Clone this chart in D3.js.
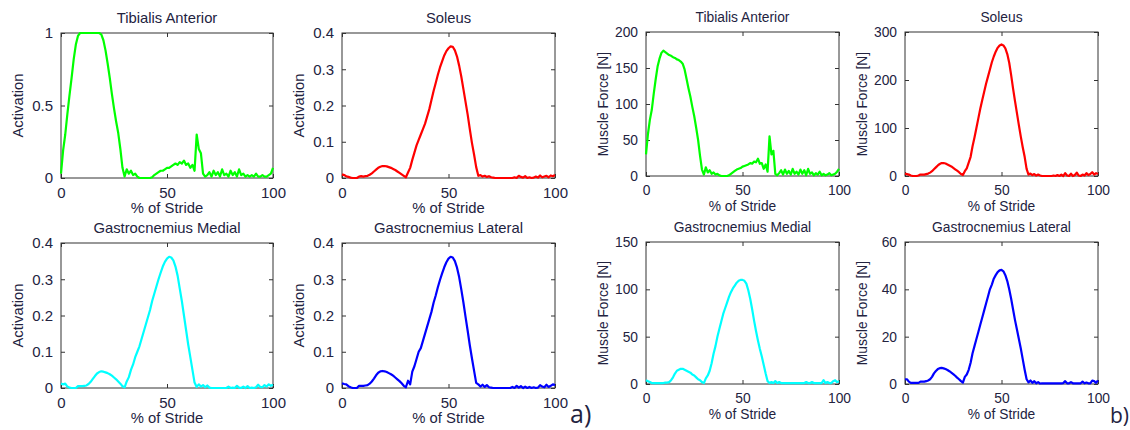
<!DOCTYPE html>
<html>
<head>
<meta charset="utf-8">
<script src="https://cdn.jsdelivr.net/npm/d3@7"></script>
<style>
body { margin:0; background:#fff; }
text { font-family: "Liberation Sans", Arial, sans-serif; fill:#23233f; }
</style>
</head>
<body>
<div id="muscle_viz"></div>
<script>
var width = 1130;
var height = 430;

// % of stride, 0..100 in 1% steps
var stride = [0,1,2,3,4,5,6,7,8,9,10,11,12,13,14,15,16,17,18,19,20,21,22,23,24,25,26,27,28,29,30,
  31,32,33,34,35,36,37,38,39,40,41,42,43,44,45,46,47,48,49,50,51,52,53,54,55,56,57,58,59,60,
  61,62,63,64,65,66,67,68,69,70,71,72,73,74,75,76,77,78,79,80,81,82,83,84,85,86,87,88,89,90,
  91,92,93,94,95,96,97,98,99,100];

var titles = ['Tibialis Anterior', 'Soleus', 'Gastrocnemius Medial', 'Gastrocnemius Lateral'];
var colors = ['#00ff00', '#ff0000', '#00ffff', '#0000ff'];

// a) activation
var taAct = [0.03,0.19,0.30,0.44,0.57,0.69,0.82,0.92,0.98,1,1,1,1,1,1,1,1,1,1,0.99,0.95,
  0.88,0.79,0.69,0.58,0.48,0.39,0.31,0.2,0.07,0.01,0.06,0.03,0.05,0.02,0.03,0.01,0,0,0,0,
  0,0,0.005,0.02,0.03,0.04,0.05,0.05,0.06,0.07,0.07,0.08,0.09,0.1,0.09,0.11,0.1,0.12,0.09,0.1,
  0.07,0.09,0.05,0.3,0.2,0.17,0.03,0.01,0.02,0.04,0.01,0.05,0.02,0.04,0.01,0.06,0.02,0.03,0.01,0.05,
  0.02,0.04,0.01,0.06,0.02,0.03,0.01,0.02,0.01,0.02,0.01,0.03,0.01,0.01,0.02,0.01,0.01,0.02,0.03,0.07];
var solAct = [0.01,0.008,0.005,0.003,0.001,0,0,0,0.004,0.005,0.004,0.005,0.006,0.009,0.013,0.018,0.023,0.028,0.031,0.033,0.033,
  0.032,0.03,0.028,0.025,0.022,0.018,0.014,0.01,0.006,0.002,0.015,0.028,0.05,0.07,0.09,0.105,0.12,0.135,0.15,0.17,
  0.19,0.215,0.24,0.262,0.285,0.305,0.322,0.338,0.35,0.358,0.363,0.362,0.352,0.335,0.31,0.28,0.245,0.21,0.175,0.135,
  0.097,0.065,0.03,0.006,0.008,0.004,0.006,0.003,0.005,0.002,0.001,0,0,0,0,0,0,0,0,0,
  0.002,0,0.006,0.003,0.001,0.005,0,0.002,0,0.001,0.004,0.001,0.007,0.002,0.004,0.006,0.002,0.007,0.005,0.008];
var gmAct = [0.012,0.01,0.012,0.004,0.001,0,0,0,0.005,0.005,0.005,0.006,0.007,0.011,0.017,0.025,0.033,0.04,0.044,0.046,0.045,
  0.043,0.041,0.038,0.034,0.029,0.024,0.018,0.012,0.005,0.002,0.018,0.03,0.05,0.065,0.085,0.1,0.115,0.135,0.155,0.175,
  0.195,0.215,0.24,0.26,0.28,0.3,0.318,0.335,0.348,0.357,0.362,0.36,0.352,0.335,0.31,0.275,0.24,0.2,0.16,0.12,
  0.085,0.05,0.015,0.003,0.01,0.004,0.008,0.002,0.007,0.001,0,0,0,0,0,0,0,0,0.004,0,
  0.001,0,0.006,0.001,0,0.004,0,0.005,0,0.001,0,0.002,0.009,0.003,0.002,0.008,0.004,0.01,0.006,0.009];
var glAct = [0.013,0.011,0.01,0.005,0.002,0,0,0,0.006,0.006,0.006,0.007,0.008,0.012,0.018,0.026,0.035,0.042,0.046,0.047,0.046,
  0.044,0.041,0.038,0.034,0.029,0.024,0.019,0.013,0.006,0.002,0.02,0.01,0.045,0.06,0.08,0.1,0.11,0.13,0.15,0.17,
  0.19,0.21,0.235,0.255,0.278,0.298,0.316,0.333,0.347,0.357,0.362,0.36,0.35,0.332,0.306,0.272,0.236,0.196,0.158,0.118,
  0.082,0.048,0.014,0.01,0.004,0.009,0.003,0.008,0.002,0.001,0,0,0,0,0,0,0,0,0,0.003,
  0,0.006,0.001,0.005,0,0.004,0,0.003,0,0.002,0,0.001,0.008,0.004,0.002,0.009,0.003,0.006,0.01,0.008];

// b) muscle force [N]
var taF = [30,58,78,92,114,134,152,163,171,174,172,170,168,167,165,164,162,161,159,156,148,
  135,122,110,96,83,67,50,28,9,2,12,5,8,3,5,2,3,1,0,0,
  0,0,1,3,5,7,9,10,11,13,14,15,16,18,17,20,19,24,17,18,
  10,16,6,55,30,35,3,1,4,8,2,9,3,7,2,10,3,6,2,9,
  3,8,1,10,3,5,1,4,2,6,1,3,1,2,4,1,2,3,6,10];
var solF = [5,4,3,1,0,0,0,1,3,3,3,4,5,7,10,14,18,22,25,27,27,
  26,24,22,20,17,14,11,8,4,2,10,16,28,40,62,80,100,120,140,158,
  175,192,207,222,237,249,259,267,272,274,272,266,254,236,210,182,156,131,106,82,
  60,40,15,3,5,2,4,1,3,1,0,0,0,0,0,0,1,0,2,0,
  3,0,6,1,0,5,0,2,7,1,0,3,1,6,2,4,8,3,6,4];
var gmF = [4,3,2,1,1,1,1,1,1,1,1.5,1.5,2,4,7,11,14,15,16,16,15,
  14,13,12,10,9,7,5,4,2,1,6,9,14,22,32,40,50,58,66,74,
  80,86,92,97,101,104,107,109,110,110,109,106,99,90,79,67,56,46,37,29,
  20,11,3,1,2,1,3,1,2,1,1,1,1,1,1,1,1,1,1,1,
  1,1,2,1,1,2,1,1,1,1,1,4,1,2,1,1,3,4,2,3];
var glF = [2,2,1,0.5,0.5,0.5,0.5,0.5,1,1,1,1.2,1.5,2,3,4.5,5.5,6.3,6.7,6.8,6.6,
  6.3,5.9,5.4,4.8,4.2,3.5,2.7,2,1.2,0.6,3,4,6,9,13,16,19,22,25,28,
  31,34,37,40,42,44.5,46,47.3,48,48.2,47.6,46,43.5,40,36,31.5,27,23,19,15,
  10.5,6,2,0.7,1.5,0.5,1.2,0.3,0.8,0.2,0.3,0.3,0.3,0.3,0.3,0.3,0.3,0.3,0.3,0.3,
  0.3,0.4,1.2,0.3,0.3,0.8,0.3,0.3,0.3,0.3,0.3,1,0.3,0.6,0.3,0.3,1.4,1.2,0.5,1.5];

// y tick labels per panel
var actTicks1 = [0, 0.5, 1];
var actTicks = [0, 0.1, 0.2, 0.3, 0.4];
var taFTicks = [0, 50, 100, 150, 200];
var solFTicks = [0, 100, 200, 300];
var gmFTicks = [0, 50, 100, 150];
var glFTicks = [0, 20, 40, 60];
var xTicks = [0, 50, 100];

var svg = d3.select('#muscle_viz').append('svg')
  .attr('width', width)
  .attr('height', height);

// panel layout (box corners), label font size and tick font size
var panels = [
  {v:taAct, t:0, ticks:actTicks1, yl:'Activation', x0:61, x1:273, y0:33, y1:178, fs:14.8, tfs:15},
  {v:solAct, t:1, ticks:actTicks, yl:'Activation', x0:342, x1:555, y0:33, y1:178, fs:14.8, tfs:15},
  {v:gmAct, t:2, ticks:actTicks, yl:'Activation', x0:61, x1:273, y0:243, y1:388, fs:14.8, tfs:15},
  {v:glAct, t:3, ticks:actTicks, yl:'Activation', x0:342, x1:555, y0:243, y1:388, fs:14.8, tfs:15},
  {v:taF, t:0, ticks:taFTicks, yl:'Muscle Force [N]', x0:646, x1:839, y0:32, y1:176, fs:13.8, tfs:13.8},
  {v:solF, t:1, ticks:solFTicks, yl:'Muscle Force [N]', x0:905, x1:1098, y0:32, y1:176, fs:13.8, tfs:13.8},
  {v:gmF, t:2, ticks:gmFTicks, yl:'Muscle Force [N]', x0:646, x1:839, y0:242, y1:384, fs:13.8, tfs:13.8},
  {v:glF, t:3, ticks:glFTicks, yl:'Muscle Force [N]', x0:905, x1:1098, y0:242, y1:384, fs:13.8, tfs:13.8}
];

panels.forEach(function(p){
  var x = d3.scaleLinear().domain([0, 100]).range([p.x0, p.x1]);
  var y = d3.scaleLinear().domain([0, d3.max(p.ticks)]).range([p.y1, p.y0]);
  var g = svg.append('g');

  // box
  g.append('rect')
    .attr('x', p.x0).attr('y', p.y0)
    .attr('width', p.x1 - p.x0).attr('height', p.y1 - p.y0)
    .attr('fill', 'none').attr('stroke', '#333').attr('stroke-width', 1);

  // inward ticks on all four sides, labels left and bottom
  g.append('g').attr('transform', 'translate(' + p.x0 + ',0)')
    .call(d3.axisLeft(y).tickValues(p.ticks).tickSizeInner(-4).tickSizeOuter(0).tickPadding(8).tickFormat(d3.format('')))
    .call(function(a){ a.select('.domain').remove(); });
  g.append('g').attr('transform', 'translate(' + p.x1 + ',0)')
    .call(d3.axisRight(y).tickValues(p.ticks).tickSizeInner(-4).tickSizeOuter(0).tickFormat(''))
    .call(function(a){ a.select('.domain').remove(); });
  g.append('g').attr('transform', 'translate(0,' + p.y1 + ')')
    .call(d3.axisBottom(x).tickValues(xTicks).tickSizeInner(-4).tickSizeOuter(0).tickPadding(9))
    .call(function(a){ a.select('.domain').remove(); });
  g.append('g').attr('transform', 'translate(0,' + p.y0 + ')')
    .call(d3.axisTop(x).tickValues(xTicks).tickSizeInner(-4).tickSizeOuter(0).tickFormat(''))
    .call(function(a){ a.select('.domain').remove(); });

  g.selectAll('.tick line').attr('stroke', '#333');
  g.selectAll('.tick text')
    .style('font-family', '"Liberation Sans", Arial, sans-serif')
    .style('font-size', p.tfs + 'px')
    .attr('fill', '#23233f');

  var line = d3.line()
    .x(function(d, i){ return x(stride[i]); })
    .y(function(d){ return y(d); });

  g.append('path')
    .datum(p.v)
    .attr('d', line)
    .attr('fill', 'none')
    .attr('stroke', colors[p.t])
    .attr('stroke-width', 2.2)
    .attr('stroke-linejoin', 'round');

  g.append('text')
    .attr('x', (p.x0 + p.x1) / 2).attr('y', p.y0 - 10)
    .attr('text-anchor', 'middle')
    .style('font-size', p.fs + 'px')
    .text(titles[p.t]);

  g.append('text')
    .attr('x', (p.x0 + p.x1) / 2).attr('y', p.y1 + 35)
    .attr('text-anchor', 'middle')
    .style('font-size', p.fs + 'px')
    .text('% of Stride');

  g.append('text')
    .attr('transform', 'translate(' + (p.x0 - 38) + ',' + ((p.y0 + p.y1) / 2) + ') rotate(-90)')
    .attr('text-anchor', 'middle')
    .style('font-size', p.fs + 'px')
    .text(p.yl);
});

// sub-figure letters
svg.append('text').attr('x', 570).attr('y', 423)
  .style('font-size', '25px').style('font-family', '"Open Sans", sans-serif').attr('fill', '#000')
  .text('a)');
svg.append('text').attr('x', 1110).attr('y', 423)
  .style('font-size', '21px').style('font-family', '"Open Sans", sans-serif').attr('fill', '#000')
  .text('b)');
</script>
</body>
</html>
